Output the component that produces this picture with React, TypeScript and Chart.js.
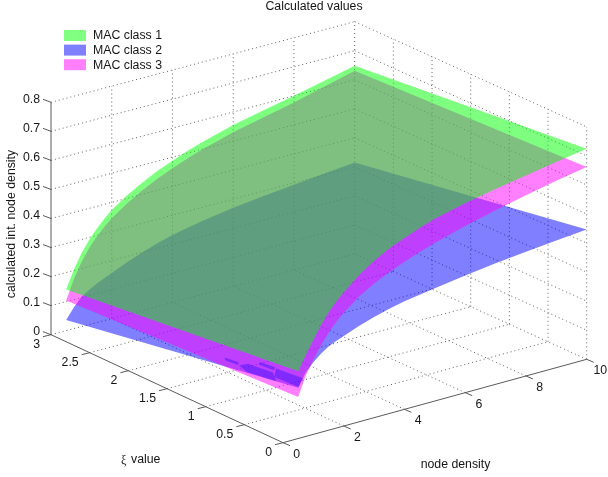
import React, { useEffect, useRef } from "react";
import { Chart, registerables } from "chart.js";

Chart.register(...registerables);

const nodeDensity = [0.5, 0.75, 1, 1.25, 1.5, 1.75, 2, 2.5, 3, 3.5, 4, 4.5, 5, 6, 7, 8, 9, 10];
const class1AtXi3 = [0.142, 0.203, 0.252, 0.29, 0.322, 0.35, 0.374, 0.41, 0.44, 0.466, 0.488, 0.508, 0.525, 0.555, 0.578, 0.6, 0.624, 0.648];
const class1AtXi0 = [0.232, 0.28, 0.325, 0.368, 0.405, 0.435, 0.46, 0.505, 0.54, 0.568, 0.59, 0.61, 0.627, 0.652, 0.672, 0.69, 0.708, 0.725];
const class3AtXi3 = [0.104, 0.17, 0.222, 0.262, 0.295, 0.322, 0.345, 0.382, 0.413, 0.44, 0.462, 0.482, 0.5, 0.53, 0.554, 0.577, 0.604, 0.631];
const class3AtXi0 = [0.143, 0.21, 0.258, 0.3, 0.335, 0.365, 0.39, 0.431, 0.462, 0.486, 0.508, 0.527, 0.544, 0.574, 0.599, 0.622, 0.643, 0.662];
const class2AtXi3 = [0.037, 0.073, 0.102, 0.119, 0.134, 0.146, 0.157, 0.18, 0.2, 0.218, 0.232, 0.243, 0.253, 0.27, 0.283, 0.294, 0.305, 0.315];
const class2AtXi0 = [0.175, 0.22, 0.248, 0.27, 0.288, 0.3, 0.31, 0.33, 0.347, 0.361, 0.372, 0.38, 0.388, 0.403, 0.417, 0.428, 0.438, 0.447];

// Small cells of class 2 that show through class 3 near the low-density corner: [density, xi]
const class2Cell1 = [[0.633, 1.0], [0.618, 0.82], [0.576, 0.805], [0.592, 0.983]];
const class2Cell2 = [[0.575, 0.795], [0.639, 0.704], [0.616, 0.371], [0.5, 0.283], [0.51, 0.666]];
const class2Cell3 = [[0.716, 0.579], [0.7, 0.379], [0.654, 0.373], [0.67, 0.574]];
const class2Cell4 = [[0.685, 0.36], [0.654, 0], [0.513, 0], [0.556, 0.33]];

const densityTicks = [0, 2, 4, 6, 8, 10];
const xiTicks = [0, 0.5, 1, 1.5, 2, 2.5, 3];
const valueTicks = [0, 0.1, 0.2, 0.3, 0.4, 0.5, 0.6, 0.7, 0.8];
const seriesNames = ["MAC class 1", "MAC class 2", "MAC class 3"];
const GREEN = "rgba(0,255,0,0.5)";
const BLUE = "rgba(0,0,255,0.5)";
const MAGENTA = "rgba(255,0,255,0.5)";
const CELL = "rgba(0,0,255,0.33)";
const seriesColors = ["#80ff80", "#8080ff", "#ff80ff"];
const GRID = "#606060";
const AXIS = "#5a5a5a";
const TEXT = "#161616";
const FONT = '12.3px "Liberation Sans", Arial, sans-serif';

// Projection of the 3D box on to the page
const F00 = [283, 442.7];
const F10 = [586.7, 359.3];
const F01 = [51, 334.7];
const F11 = [354.7, 254];
const Z_SCALE = 290.5;
function project(d: number, xi: number, z: number) {
  const u = d / 10;
  const v = xi / 3;
  const b = (i: number) =>
    F00[i] * (1 - u) * (1 - v) + F10[i] * u * (1 - v) + F01[i] * (1 - u) * v + F11[i] * u * v;
  return { x: b(0), y: b(1) - z * Z_SCALE };
}

function tableAt(values: number[], d: number) {
  let i = 0;
  while (i < nodeDensity.length - 2 && nodeDensity[i + 1] < d) i++;
  const t = (d - nodeDensity[i]) / (nodeDensity[i + 1] - nodeDensity[i]);
  return values[i] + (values[i + 1] - values[i]) * t;
}

function polygon(points: { x: number; y: number }[], color: string) {
  return {
    data: points,
    showLine: true,
    fill: "shape",
    backgroundColor: color,
    borderWidth: 0,
    borderColor: "transparent",
    pointRadius: 0,
    tension: 0,
  };
}

function surface(atXi3: number[], atXi0: number[], color: string) {
  const back = nodeDensity.map((d, i) => project(d, 3, atXi3[i]));
  const front = nodeDensity.map((d, i) => project(d, 0, atXi0[i])).reverse();
  return polygon([...back, ...front], color);
}

function class2Cell(cell: number[][]) {
  const pts = cell.map(([d, xi]) => {
    const z0 = tableAt(class2AtXi0, d);
    const z3 = tableAt(class2AtXi3, d);
    return project(d, xi, z0 + ((z3 - z0) * xi) / 3);
  });
  return polygon(pts, CELL);
}

function line(a: { x: number; y: number }, b: { x: number; y: number }, color: string, dash: number[]) {
  return {
    data: [a, b],
    showLine: true,
    fill: false,
    borderColor: color,
    borderWidth: 1,
    borderDash: dash,
    pointRadius: 0,
  };
}

const DOT = [1, 3];
function gridLines() {
  const out: any[] = [];
  for (const d of densityTicks.slice(1)) {
    out.push(line(project(d, 0, 0), project(d, 3, 0), GRID, DOT));
    out.push(line(project(d, 3, 0), project(d, 3, 0.8), GRID, DOT));
  }
  for (const xi of xiTicks.slice(1)) {
    out.push(line(project(0, xi, 0), project(10, xi, 0), GRID, DOT));
  }
  for (const xi of xiTicks.slice(0, -1)) {
    out.push(line(project(10, xi, 0), project(10, xi, 0.8), GRID, DOT));
  }
  for (const z of valueTicks.slice(1)) {
    out.push(line(project(0, 3, z), project(10, 3, z), GRID, DOT));
    out.push(line(project(10, 3, z), project(10, 0, z), GRID, DOT));
  }
  return out;
}

function axisLines() {
  const out: any[] = [];
  const solid: number[] = [];
  out.push(line(project(0, 0, 0), project(10, 0, 0), AXIS, solid));
  out.push(line(project(0, 0, 0), project(0, 3, 0), AXIS, solid));
  out.push(line(project(0, 3, 0), project(0, 3, 0.8), AXIS, solid));
  for (const d of densityTicks) {
    const p = project(d, 0, 0);
    out.push(line(p, { x: p.x + 7, y: p.y + 3 }, AXIS, solid));
  }
  for (const xi of xiTicks) {
    const p = project(0, xi, 0);
    out.push(line(p, { x: p.x - 8, y: p.y + 2 }, AXIS, solid));
  }
  for (const z of valueTicks) {
    const p = project(0, 3, z);
    out.push(line(p, { x: p.x - 8, y: p.y - 3 }, AXIS, solid));
  }
  return out;
}

const textPlugin = {
  id: "boxText",
  afterDatasetsDraw(chart: any) {
    const c = chart.ctx;
    c.save();
    c.fillStyle = TEXT;
    c.font = FONT;
    c.textBaseline = "middle";

    c.textAlign = "center";
    c.fillText("Calculated values", 314, 7);
    c.fillText("node density", 455.5, 465);
    for (const d of densityTicks) {
      const p = project(d, 0, 0);
      c.fillText(String(d), p.x + 13.6, p.y + 11.5);
    }
    c.textAlign = "right";
    for (const xi of xiTicks) {
      const p = project(0, xi, 0);
      c.fillText(String(xi), p.x - 11, p.y + 10);
    }
    for (const z of valueTicks) {
      const p = project(0, 3, z);
      c.fillText(String(z), 40, p.y - 3);
    }
    c.textAlign = "left";
    c.font = '12.3px "Liberation Serif", serif';
    c.fillText("ξ", 121, 461);
    c.font = FONT;
    c.fillText("value", 131, 460);
    seriesNames.forEach((name, i) => {
      const top = 30 + i * 14.6;
      c.fillStyle = seriesColors[i];
      c.fillRect(64, top, 22, 11);
      c.fillStyle = TEXT;
      c.fillText(name, 93, top + 6);
    });

    c.save();
    c.translate(12, 224);
    c.rotate(-Math.PI / 2);
    c.textAlign = "center";
    c.fillText("calculated int. node density", 0, 0);
    c.restore();
    c.restore();
  },
};

export default function App() {
  const ref = useRef<HTMLCanvasElement>(null);
  useEffect(() => {
    // Listed from the rearmost layer to the frontmost one.
    const layers = [
      ...gridLines(),
      surface(class2AtXi3, class2AtXi0, BLUE),
      surface(class3AtXi3, class3AtXi0, MAGENTA),
      class2Cell(class2Cell1),
      class2Cell(class2Cell2),
      class2Cell(class2Cell3),
      class2Cell(class2Cell4),
      surface(class1AtXi3, class1AtXi0, GREEN),
      ...axisLines(),
    ];
    const datasets = layers.map((l, i) => ({ ...l, order: layers.length - i }));
    const chart = new Chart(ref.current as HTMLCanvasElement, {
      type: "scatter",
      data: { datasets } as any,
      options: {
        animation: false,
        responsive: false,
        devicePixelRatio: 1,
        layout: { padding: 0 },
        plugins: { legend: { display: false }, tooltip: { enabled: false }, title: { display: false } },
        scales: {
          x: { type: "linear", min: 0, max: 608, display: false },
          y: { type: "linear", min: 0, max: 477, reverse: true, display: false },
        },
      } as any,
      plugins: [textPlugin],
    });
    return () => chart.destroy();
  }, []);
  return (
    <div style={{ position: "absolute", left: 0, top: 0, width: 608, height: 477, background: "#fff" }}>
      <canvas ref={ref} width={608} height={477} style={{ display: "block" }} />
    </div>
  );
}
